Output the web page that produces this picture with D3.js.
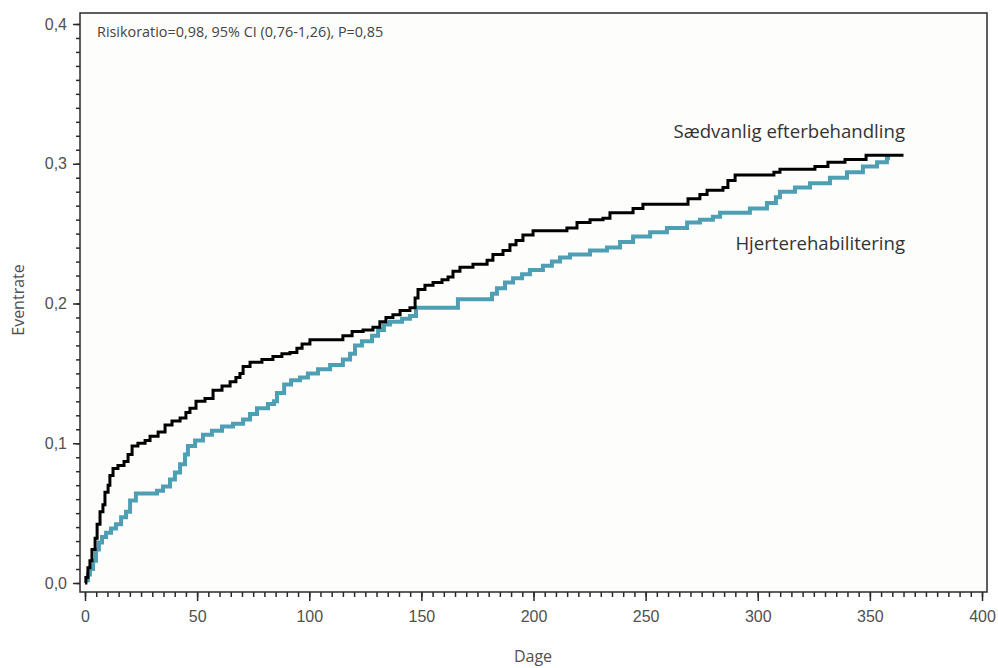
<!DOCTYPE html>
<html>
<head>
<meta charset="utf-8">
<script src="https://cdn.jsdelivr.net/npm/d3@7"></script>
<style>
  body { margin: 0; background: #fff; }
  svg { font-family: "Open Sans", "Noto Sans", sans-serif; }
</style>
</head>
<body>
<div id="chart"></div>
<script>
const width = 998;
const height = 668;

// Sædvanlig efterbehandling (sort kurve)
const usualDays = [0, 0.4, 1.3, 2.2, 3.1, 4.5, 5.4, 6.7, 8.0, 8.9, 10.3, 11.1, 12.5, 14.7, 17.4, 19.2, 21.0, 23.6, 26.8, 29.0,
  32.6, 35.7, 38.8, 42.4, 45.0, 46.8, 49.5, 53.5, 57.1, 61.1, 64.7, 67.3, 69.1, 70.5, 73.6, 78.9, 83.8, 87.8, 91.4, 94.5,
  96.8, 100.3, 115.0, 119.1, 124.0, 128.4, 131.5, 134.2, 137.3, 140.5, 144.9, 147.2, 148.5, 151.6, 155.2, 159.2, 161.9,
  164.1, 167.2, 173.0, 179.3, 181.9, 186.4, 189.5, 192.2, 195.3, 199.8, 214.9, 219.4, 225.2, 231.0, 234.1, 244.4, 248.8,
  268.9, 274.2, 277.4, 284.5, 286.7, 289.9, 307.2, 309.9, 325.5, 331.3, 338.9, 348.3, 365];
const usualRate = [0, 0.004, 0.011, 0.016, 0.024, 0.032, 0.042, 0.051, 0.056, 0.065, 0.070, 0.077, 0.082, 0.084, 0.087, 0.092, 0.098, 0.100, 0.102, 0.105,
  0.108, 0.113, 0.116, 0.118, 0.122, 0.125, 0.130, 0.132, 0.138, 0.141, 0.144, 0.147, 0.150, 0.155, 0.158, 0.160, 0.162, 0.164, 0.165, 0.168,
  0.171, 0.174, 0.177, 0.180, 0.181, 0.183, 0.187, 0.190, 0.192, 0.195, 0.197, 0.204, 0.210, 0.213, 0.215, 0.217, 0.219,
  0.223, 0.226, 0.228, 0.231, 0.235, 0.238, 0.242, 0.245, 0.249, 0.252, 0.254, 0.258, 0.260, 0.261, 0.265, 0.268, 0.271,
  0.275, 0.278, 0.281, 0.283, 0.288, 0.292, 0.294, 0.296, 0.298, 0.301, 0.303, 0.306, 0.306];

// Hjerterehabilitering (blå kurve)
const rehabDays = [0, 1.3, 2.2, 3.6, 4.9, 6.2, 7.6, 9.4, 11.6, 13.8, 16.1, 18.3, 20.1, 22.7, 32.1, 34.8, 37.9, 40.1, 42.4, 44.6,
  45.9, 49.1, 52.6, 56.6, 61.1, 66.0, 70.5, 73.6, 76.7, 81.6, 84.3, 85.6, 88.8, 91.9, 95.9, 99.4, 103.9, 109.3, 115.0,
  118.2, 120.4, 123.5, 128.0, 130.7, 133.3, 136.0, 141.4, 144.9, 147.6, 166.3, 181.5, 183.7, 187.3, 190.9, 194.9, 198.4,
  204.2, 208.2, 211.8, 216.3, 225.2, 232.8, 238.6, 244.4, 252.0, 259.5, 268.5, 274.2, 280.0, 283.2, 296.5, 304.1, 308.1,
  309.9, 316.6, 323.3, 332.2, 339.8, 346.9, 353.2, 357.6, 359];
const rehabRate = [0.002, 0.006, 0.010, 0.016, 0.024, 0.029, 0.033, 0.036, 0.039, 0.042, 0.047, 0.051, 0.059, 0.064, 0.066, 0.069, 0.074, 0.079, 0.085, 0.092,
  0.098, 0.102, 0.106, 0.109, 0.112, 0.114, 0.117, 0.121, 0.125, 0.128, 0.130, 0.136, 0.142, 0.145, 0.147, 0.150, 0.153, 0.156, 0.160,
  0.164, 0.170, 0.173, 0.177, 0.181, 0.185, 0.187, 0.189, 0.191, 0.197, 0.203, 0.207, 0.211, 0.215, 0.218, 0.221, 0.224,
  0.227, 0.230, 0.233, 0.235, 0.238, 0.240, 0.244, 0.248, 0.251, 0.254, 0.258, 0.260, 0.262, 0.265, 0.268, 0.272, 0.276,
  0.280, 0.283, 0.286, 0.290, 0.294, 0.298, 0.301, 0.304, 0.304];

const xTicks = [0, 50, 100, 150, 200, 250, 300, 350, 400];
const yTicks = [0, 0.1, 0.2, 0.3, 0.4];
const annotation = "Risikoratio=0,98, 95% CI (0,76-1,26), P=0,85";

const svg = d3.select("#chart")
  .append("svg")
  .attr("width", width)
  .attr("height", height);

// Ramme
const frame = { left: 80, top: 13, right: 987, bottom: 592 };

const x = d3.scaleLinear().domain([0, 400]).range([85, 982]);
const y = d3.scaleLinear().domain([0, 0.4]).range([583, 24]);

const comma = v => d3.format(".1f")(v).replace(".", ",");

svg.append("rect")
  .attr("x", frame.left)
  .attr("y", frame.top)
  .attr("width", frame.right - frame.left)
  .attr("height", frame.bottom - frame.top)
  .attr("fill", "#fdfdfc")
  .attr("stroke", "#2a2a2a")
  .attr("stroke-width", 1.5);

// Mindre ticks
const gxMinor = svg.append("g")
  .attr("transform", `translate(0,${frame.bottom})`)
  .call(d3.axisBottom(x).tickValues(d3.range(0, 401, 5)).tickSize(5).tickFormat(""));
const gyMinor = svg.append("g")
  .attr("transform", `translate(${frame.left},0)`)
  .call(d3.axisLeft(y).tickValues(d3.range(0, 0.4001, 0.01)).tickSize(4).tickFormat(""));

// Hovedakser
const gx = svg.append("g")
  .attr("transform", `translate(0,${frame.bottom})`)
  .call(d3.axisBottom(x).tickValues(xTicks).tickSize(9).tickPadding(10).tickFormat(d3.format("d")));
const gy = svg.append("g")
  .attr("transform", `translate(${frame.left},0)`)
  .call(d3.axisLeft(y).tickValues(yTicks).tickSize(7).tickPadding(6).tickFormat(comma));

[gxMinor, gyMinor, gx, gy].forEach(g => {
  g.select(".domain").remove();
  g.selectAll("line").attr("stroke", "#2a2a2a").attr("stroke-width", 1.5);
});
[gx, gy].forEach(g => {
  g.selectAll("text")
    .attr("fill", "#505050")
    .style("font-size", "16px");
});

// Kurver
const line = d3.line()
  .x(d => x(d[0]))
  .y(d => y(d[1]))
  .curve(d3.curveStepAfter);

svg.append("path")
  .datum(d3.zip(rehabDays, rehabRate))
  .attr("fill", "none")
  .attr("stroke", "#4f9fb4")
  .attr("stroke-width", 4)
  .attr("d", line);

svg.append("path")
  .datum(d3.zip(usualDays, usualRate))
  .attr("fill", "none")
  .attr("stroke", "#000")
  .attr("stroke-width", 3)
  .attr("d", line);

// Tekster
svg.append("text")
  .attr("x", 97)
  .attr("y", 37)
  .attr("fill", "#444")
  .style("font-size", "14.4px")
  .text(annotation);

svg.append("text")
  .attr("x", 905)
  .attr("y", 138)
  .attr("text-anchor", "end")
  .attr("fill", "#333")
  .style("font-size", "18.6px")
  .text("Sædvanlig efterbehandling");

svg.append("text")
  .attr("x", 905)
  .attr("y", 250)
  .attr("text-anchor", "end")
  .attr("fill", "#333")
  .style("font-size", "18.6px")
  .text("Hjerterehabilitering");

svg.append("text")
  .attr("x", 533)
  .attr("y", 662)
  .attr("text-anchor", "middle")
  .attr("fill", "#505050")
  .style("font-size", "16px")
  .text("Dage");

svg.append("text")
  .attr("transform", "translate(24,300) rotate(-90)")
  .attr("text-anchor", "middle")
  .attr("fill", "#505050")
  .style("font-size", "16px")
  .text("Eventrate");
</script>
</body>
</html>
